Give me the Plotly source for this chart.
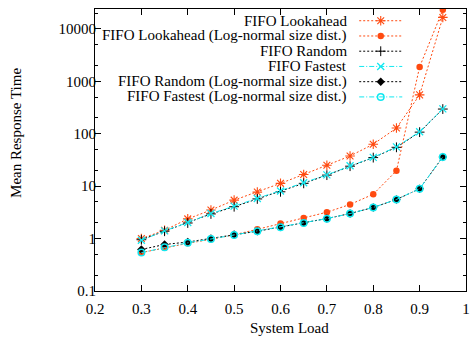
import plotly.graph_objects as go

# ---------------- data ----------------
load = [0.30, 0.35, 0.40, 0.45, 0.50, 0.55, 0.60, 0.65, 0.70, 0.75, 0.80, 0.85, 0.90, 0.95]

fifo_lookahead = [1.0, 1.44, 2.37, 3.5, 5.4, 7.7, 11.3, 16.7, 25, 37.5, 63, 128, 550, 16500]
fifo_lookahead_ln = [0.54, 0.67, 0.81, 0.97, 1.18, 1.5, 1.94, 2.48, 3.18, 4.47, 7.0, 19.6, 1880, 23000]
fifo_random = [0.95, 1.38, 1.98, 2.95, 4.05, 5.7, 7.8, 11.3, 16.2, 24.0, 35.0, 55, 107, 295]
fifo_fastest = [0.93, 1.40, 2.02, 3.0, 4.15, 5.8, 8.1, 11.6, 16.4, 24.4, 35.4, 56, 109, 297]
fifo_random_ln = [0.62, 0.77, 0.86, 1.0, 1.19, 1.38, 1.66, 1.99, 2.41, 3.0, 3.92, 5.57, 8.9, 36]
fifo_fastest_ln = [0.54, 0.68, 0.83, 0.98, 1.17, 1.38, 1.65, 1.98, 2.40, 3.0, 3.92, 5.57, 8.9, 36]

names = [
    "FIFO Lookahead",
    "FIFO Lookahead (Log-normal size dist.)",
    "FIFO Random",
    "FIFO Fastest",
    "FIFO Random (Log-normal size dist.)",
    "FIFO Fastest (Log-normal size dist.)",
]
x_title = "System Load"
y_title = "Mean Response Time"
x_ticks = [0.2, 0.3, 0.4, 0.5, 0.6, 0.7, 0.8, 0.9, 1.0]
x_ticktext = ["0.2", "0.3", "0.4", "0.5", "0.6", "0.7", "0.8", "0.9", "1"]
y_ticks = [0.1, 1, 10, 100, 1000, 10000]
y_ticktext = ["0.1", "1", "10", "100", "1000", "10000"]

# ---------------- styles ----------------
ORANGE = "#ff4a10"
CYAN = "#10e8f0"
BLACK = "#000000"
FONT = "Liberation Serif"

series = [fifo_lookahead, fifo_lookahead_ln, fifo_random, fifo_fastest, fifo_random_ln, fifo_fastest_ln]
styles = [
    dict(color=ORANGE, dash="2px,2px", symbol="asterisk-open", size=8, mline=ORANGE, mw=1.1),
    dict(color=ORANGE, dash="2px,2px", symbol="circle", size=6.5, mline=ORANGE, mw=0),
    dict(color=BLACK, dash="2px,2px", symbol="cross-thin-open", size=7, mline=BLACK, mw=1),
    dict(color=CYAN, dash="5px,2px,1px,2px", symbol="x-thin-open", size=7, mline=CYAN, mw=1.3),
    dict(color=BLACK, dash="2px,2px", symbol="diamond", size=6.5, mline=BLACK, mw=0),
    dict(color=CYAN, dash="5px,2px,1px,2px", symbol="circle-open", size=6.5, mline=CYAN, mw=1.5),
]

W, H = 471, 340
L, R, T, B = 95, 465.7, 9.3, 290.6

fig = go.Figure()
for nm, ys, st in zip(names, series, styles):
    fig.add_trace(go.Scatter(
        x=load, y=ys, name=nm, mode="lines+markers",
        line=dict(color=st["color"], dash=st["dash"], width=1),
        marker=dict(symbol=st["symbol"], size=st["size"], color=st["color"],
                    line=dict(color=st["mline"], width=st["mw"])),
        showlegend=False, cliponaxis=True,
    ))

# ------------- gnuplot-style key (text right, sample left) -------------
def px2x(px):
    return (px - L) / (R - L)

def px2y(py):
    return (B - py) / (B - T)

row0, rowstep = 21.0, 15.2
text_right, samp_x0, samp_x1, samp_mid = 349, 359, 402, 380.5
annotations = []
for i, (nm, st) in enumerate(zip(names, styles)):
    yy = px2y(row0 + i * rowstep)
    fig.add_trace(go.Scatter(
        x=[px2x(samp_x0), px2x(samp_x1)], y=[yy, yy], mode="lines",
        line=dict(color=st["color"], dash=st["dash"], width=1),
        xaxis="x2", yaxis="y2", showlegend=False, hoverinfo="skip",
    ))
    fig.add_trace(go.Scatter(
        x=[px2x(samp_mid)], y=[yy], mode="markers",
        marker=dict(symbol=st["symbol"], size=st["size"], color=st["color"],
                    line=dict(color=st["mline"], width=st["mw"])),
        xaxis="x2", yaxis="y2", showlegend=False, hoverinfo="skip",
    ))
    annotations.append(dict(
        x=px2x(text_right), y=yy, xref="x2", yref="y2", text=nm, showarrow=False,
        xanchor="right", yanchor="middle", font=dict(family=FONT, size=15, color="black"),
    ))

# axis titles placed like gnuplot
annotations.append(dict(
    x=px2x(289), y=px2y(328), xref="paper", yref="paper", text=x_title, showarrow=False,
    xanchor="center", yanchor="middle", font=dict(family=FONT, size=15, color="black"),
))
annotations.append(dict(
    x=px2x(16), y=px2y(133), xref="paper", yref="paper", text=y_title, showarrow=False,
    textangle=-90, xanchor="center", yanchor="middle",
    font=dict(family=FONT, size=15, color="black"),
))

fig.update_layout(
    width=W, height=H,
    margin=dict(l=L, r=W - R, t=T, b=H - B, pad=0),
    paper_bgcolor="white", plot_bgcolor="white",
    font=dict(family=FONT, size=15, color="black"),
    annotations=annotations,
    xaxis=dict(
        range=[0.2, 1.0], tickvals=x_ticks, ticktext=x_ticktext,
        ticks="inside", ticklen=6, tickwidth=1, tickcolor="black",
        showline=True, linecolor="black", linewidth=1.2, mirror="allticks",
        showgrid=False, zeroline=False, automargin=False, ticklabelstandoff=4,
    ),
    yaxis=dict(
        type="log", range=[-1, 4.378], tickvals=y_ticks, ticktext=y_ticktext,
        ticks="inside", ticklen=6, tickwidth=1, tickcolor="black",
        minor=dict(ticks="inside", ticklen=3, tickcolor="black", dtick="D2", showgrid=False),
        showline=True, linecolor="black", linewidth=1.2, mirror="allticks",
        showgrid=False, zeroline=False, automargin=False, ticklabelstandoff=-5,
    ),
    xaxis2=dict(overlaying="x", range=[0, 1], visible=False, fixedrange=True),
    yaxis2=dict(overlaying="y", range=[0, 1], visible=False, fixedrange=True),
)

fig.write_html("out.html", config={"displayModeBar": False},
               post_script="document.body.style.margin='0px';")
